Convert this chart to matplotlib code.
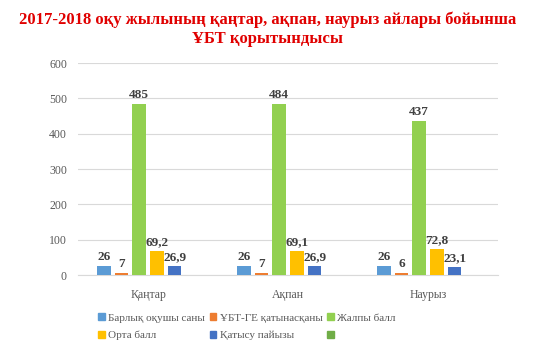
import numpy as np
import matplotlib.pyplot as plt
from matplotlib.patches import Patch

plt.rcParams['font.family'] = ['Liberation Serif', 'DejaVu Serif']

months = ["Қаңтар", "Ақпан", "Наурыз"]
series = ["Барлық оқушы саны", "ҰБТ-ГЕ қатынасқаны", "Жалпы балл",
          "Орта балл", "Қатысу пайызы", ""]
total_students = [26, 26, 26]
participants = [7, 7, 6]
total_score = [485, 484, 437]
avg_score = [69.2, 69.1, 72.8]
participation_pct = [26.9, 26.9, 23.1]
empty_series = [np.nan, np.nan, np.nan]

colors = ["#5B9BD5", "#ED7D31", "#92D050", "#FFC000", "#4472C4", "#70AD47"]
title = "2017-2018 оқу жылының қаңтар, ақпан, наурыз айлары бойынша\nҰБТ қорытындысы"

values = [total_students, participants, total_score, avg_score,
          participation_pct, empty_series]


def fmt(v):
    # comma decimal separator, like the original sheet
    if float(v).is_integer():
        return f"{int(v)}"
    return f"{v:.1f}".replace(".", ",")


fig = plt.figure(figsize=(5.35, 3.5), dpi=100)
ax = fig.add_axes([0.146, 0.214, 0.785, 0.606])

x = np.arange(len(months))
step = 0.1264
width = 0.097
for i, (vals, c) in enumerate(zip(values, colors)):
    pos = x + (i - 2.5) * step
    ax.bar(pos, vals, width=width, color=c, zorder=3)
    for xp, v in zip(pos, vals):
        if np.isnan(v):
            continue
        ax.text(xp, v + 8, fmt(v), ha="center", va="bottom",
                fontsize=9.5, fontweight="bold", color="#404040")

ax.set_ylim(0, 600)
ax.set_xlim(-0.5, 2.5)
ax.set_yticks(range(0, 601, 100))
ax.yaxis.grid(True, color="#D9D9D9", linewidth=0.8, zorder=0)
ax.set_xticks(x)
ax.set_xticklabels(months)
for s in ["top", "right", "left"]:
    ax.spines[s].set_visible(False)
ax.spines["bottom"].set_color("#D9D9D9")
ax.tick_params(axis="y", length=0, colors="#595959", labelsize=8.5, pad=8)
ax.tick_params(axis="x", length=0, colors="#595959", labelsize=8.5, pad=10)

fig.text(0.5, 0.916, title, ha="center", va="center", fontsize=12,
         fontweight="bold", color="#E00000", linespacing=1.3)

# legend is row-major in the original, matplotlib fills columns first
handles = [Patch(color=c) for c in colors]
order = [0, 3, 1, 4, 2, 5]
fig.legend([handles[k] for k in order], [series[k] for k in order],
           loc="lower left", bbox_to_anchor=(0.165, 0.0), ncol=3,
           frameon=False, fontsize=8, labelcolor="#595959",
           handlelength=0.6, handleheight=0.6, handletextpad=0.3,
           columnspacing=0.4, labelspacing=0.7)

plt.savefig("out.png", dpi=100)
